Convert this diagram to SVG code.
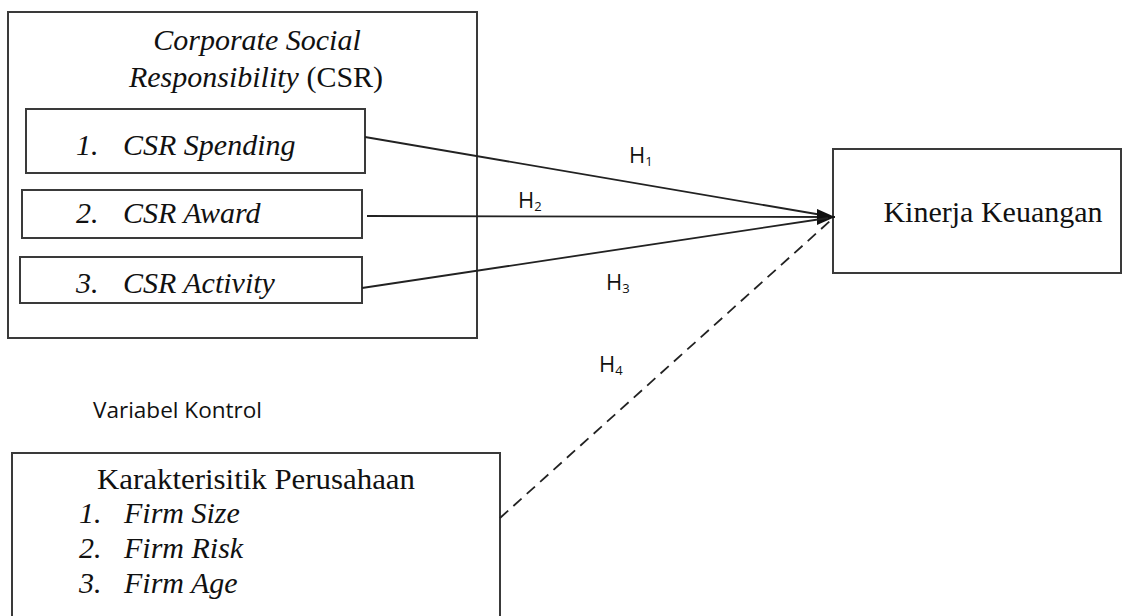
<svg xmlns="http://www.w3.org/2000/svg" width="1124" height="616" viewBox="0 0 1124 616">
<style>
.box{fill:#fff;stroke:#3a3a3a;stroke-width:2}
.serif{font-family:"Liberation Serif","Times New Roman",serif;font-size:30px;fill:#111}
.it{font-style:italic}
.sans{font-family:"Open Sans","Liberation Sans",sans-serif;font-size:22px;fill:#111}
.sub{font-size:13px}
.ln{stroke:#222;stroke-width:1.8;fill:none}
.dash{stroke-dasharray:11 7}
</style>
<defs>
<marker id="arr" markerWidth="20" markerHeight="18" refX="18" refY="8" orient="auto" markerUnits="userSpaceOnUse">
<path d="M0,0 L18,8 L0,16 Z" fill="#111"/>
</marker>
</defs>
<rect width="1124" height="616" fill="#fff"/>
<g id="csr">
<rect class="box" x="8" y="12" width="469" height="326"/>
<text class="serif" x="257" y="50" text-anchor="middle"><tspan class="it">Corporate Social</tspan></text>
<text class="serif" x="256" y="87" text-anchor="middle"><tspan class="it">Responsibility</tspan> (CSR)</text>
</g>
<g id="csr-spending">
<rect class="box" x="26" y="109" width="339" height="64"/>
<text class="serif it" x="76" y="155">1.</text>
<text class="serif it" x="123" y="155">CSR Spending</text>
</g>
<g id="csr-award">
<rect class="box" x="22" y="190" width="340" height="48"/>
<text class="serif it" x="76" y="223">2.</text>
<text class="serif it" x="123" y="223">CSR Award</text>
</g>
<g id="csr-activity">
<rect class="box" x="20" y="257" width="342" height="46"/>
<text class="serif it" x="76" y="293">3.</text>
<text class="serif it" x="123" y="293">CSR Activity</text>
</g>
<g id="kinerja">
<rect class="box" x="833" y="149" width="288" height="124"/>
<text class="serif" x="993" y="222" text-anchor="middle">Kinerja Keuangan</text>
</g>
<g id="kontrol-label">
<text class="sans" x="93" y="418" textLength="169" lengthAdjust="spacingAndGlyphs">Variabel Kontrol</text>
</g>
<g id="karakteristik">
<rect class="box" x="12" y="453" width="488" height="175"/>
<text class="serif" x="97" y="489" textLength="318" lengthAdjust="spacingAndGlyphs">Karakterisitik Perusahaan</text>
<text class="serif it" x="79" y="523">1.</text>
<text class="serif it" x="124" y="523">Firm Size</text>
<text class="serif it" x="79" y="558">2.</text>
<text class="serif it" x="124" y="558">Firm Risk</text>
<text class="serif it" x="79" y="593">3.</text>
<text class="serif it" x="124" y="593">Firm Age</text>
</g>
<g id="connectors">
<line class="ln" x1="365" y1="137" x2="828" y2="216"/>
<line class="ln" x1="367" y1="216" x2="835" y2="217" marker-end="url(#arr)"/>
<line class="ln" x1="362" y1="288" x2="828" y2="218"/>
<line class="ln dash" x1="500" y1="518" x2="830" y2="221"/>
<text class="sans" x="629" y="163">H<tspan class="sub" dy="3">1</tspan></text>
<text class="sans" x="518" y="208">H<tspan class="sub" dy="3">2</tspan></text>
<text class="sans" x="606" y="290">H<tspan class="sub" dy="3">3</tspan></text>
<text class="sans" x="599" y="372">H<tspan class="sub" dy="3">4</tspan></text>
</g>
</svg>
